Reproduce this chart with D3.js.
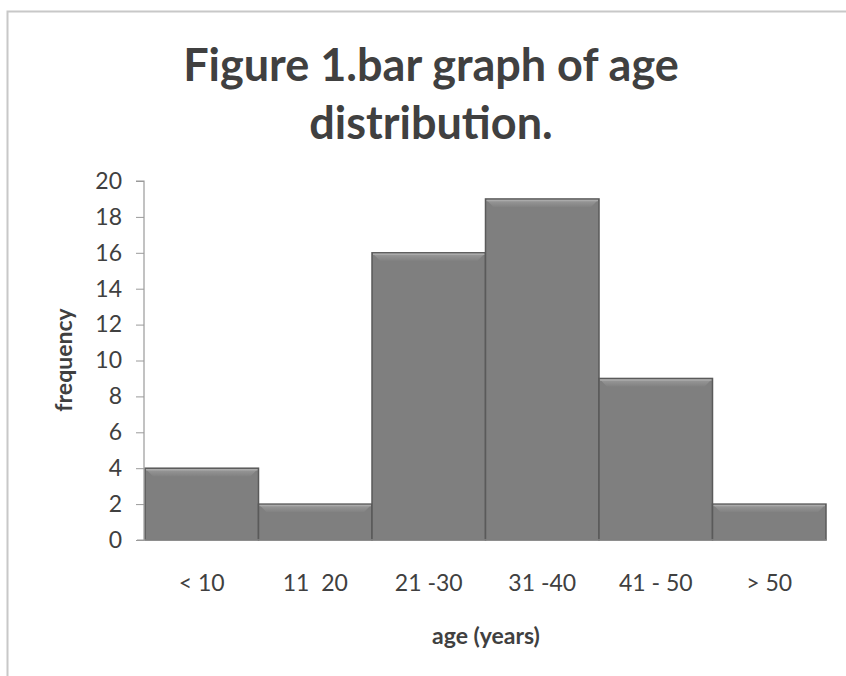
<!DOCTYPE html>
<html><head><meta charset="utf-8">
<script src="https://cdn.jsdelivr.net/npm/d3@7"></script>
<style>
html,body{margin:0;padding:0;background:#fff;}
svg{display:block;}
text{font-family:Lato,"Open Sans",sans-serif;}
</style></head>
<body>
<svg id="chart" width="846" height="676"></svg>
<script>
const categories = ["< 10", "11  20", "21 -30", "31 -40", "41 - 50", "> 50"];
const frequency = [4, 2, 16, 19, 9, 2];
const yTicks = [0, 2, 4, 6, 8, 10, 12, 14, 16, 18, 20];
const titleLines = ["Figure 1.bar graph of age", "distribution."];
const xTitle = "age (years)";
const yTitle = "frequency";

const svg = d3.select("#chart");
const m = {left: 145, right: 826, top: 181, bottom: 540};

// frame
svg.append("path").attr("d", "M7.5,676 V11.5 H846").attr("fill","none").attr("stroke","#c8c8c8").attr("stroke-width",2);

const defs = svg.append("defs");
const g1 = defs.append("linearGradient").attr("id","bevelTop").attr("x1",0).attr("y1",0).attr("x2",0).attr("y2",1);
g1.append("stop").attr("offset","0%").attr("stop-color","#9a9a9a");
g1.append("stop").attr("offset","100%").attr("stop-color","#828282");

const x = d3.scaleBand().domain(categories).range([m.left, m.right]).padding(0);
const y = d3.scaleLinear().domain([0, 20]).range([m.bottom, m.top]);

// bars
const bars = svg.append("g").selectAll("g").data(frequency).join("g");
bars.append("rect")
  .attr("x", (d,i)=>x(categories[i]))
  .attr("y", d=>y(d))
  .attr("width", x.bandwidth())
  .attr("height", d=>y(0)-y(d))
  .attr("fill", "#7f7f7f")
  .attr("stroke", "#5a5a5a")
  .attr("stroke-width", 1.5);
bars.append("path")
  .attr("d", (d,i)=>{
    const x0 = x(categories[i])+1, x1 = x0 + x.bandwidth()-2, y0 = y(d)+1, b = 7;
    return `M${x0},${y0} H${x1} L${x1-b},${y0+b} H${x0+b} Z`;
  })
  .attr("fill", "url(#bevelTop)");
bars.append("line")
  .attr("x1",(d,i)=>x(categories[i])+1).attr("x2",(d,i)=>x(categories[i])+x.bandwidth()-1)
  .attr("y1",d=>y(d)+1.5).attr("y2",d=>y(d)+1.5)
  .attr("stroke","#aaaaaa").attr("stroke-width",1.5);

// y axis
const yAxis = svg.append("g").attr("transform", `translate(${m.left-1},0)`)
  .call(d3.axisLeft(y).tickValues(yTicks).tickSize(8).tickPadding(14));
yAxis.select(".domain").attr("stroke","#9a9a9a").attr("stroke-width",1.2).attr("d", `M-8,${y(20)}H0V${y(0)}`);
yAxis.selectAll(".tick line").attr("stroke","#9a9a9a");
yAxis.selectAll("text").attr("fill","#404040").style("font-size","23px").style("font-family","Lato,sans-serif");

// x axis
const xAxis = svg.append("g").attr("transform", `translate(0,${m.bottom})`)
  .call(d3.axisBottom(x).tickSize(0).tickPadding(35));
xAxis.select(".domain").attr("stroke","#9a9a9a").attr("d", `M${m.left-8},0H${m.right}`);
xAxis.selectAll("text").attr("fill","#404040").style("font-size","23px").style("font-family","Lato,sans-serif")
  .attr("xml:space","preserve").style("white-space","pre");

// title
svg.append("text").attr("text-anchor","middle").attr("fill","#404040")
  .style("font-size","45px").style("font-weight","bold")
  .selectAll("tspan").data(titleLines).join("tspan")
  .attr("x", 431).attr("y",(d,i)=>81+i*58).text(d=>d);

// axis titles
svg.append("text").attr("x", 486).attr("y", 644).attr("text-anchor","middle")
  .attr("fill","#404040").style("font-size","23px").style("font-weight","bold").text(xTitle);
svg.append("text").attr("transform","translate(72,360) rotate(-90)").attr("text-anchor","middle")
  .attr("fill","#404040").style("font-size","23px").style("font-weight","bold").text(yTitle);
</script>
</body></html>
